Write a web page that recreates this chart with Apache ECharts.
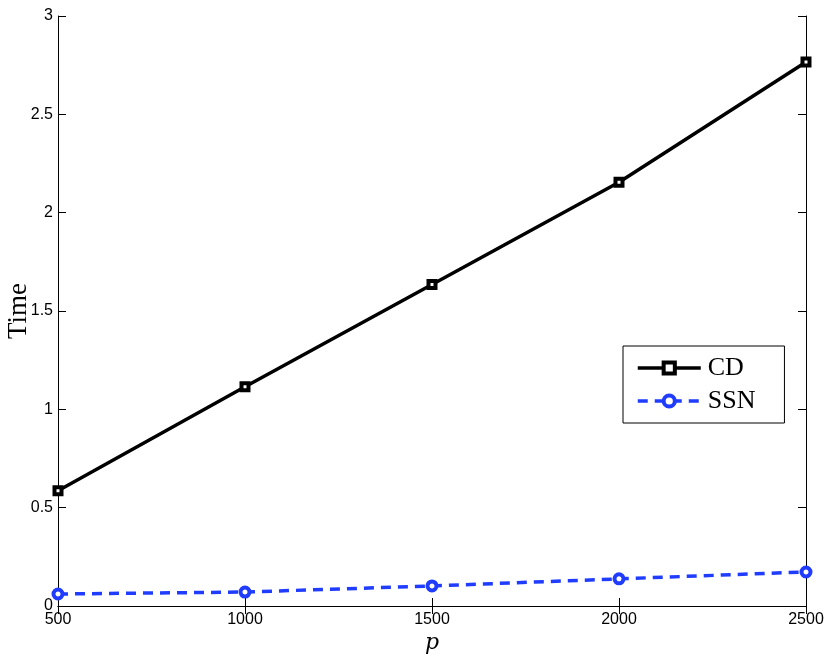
<!DOCTYPE html>
<html><head><meta charset="utf-8">
<script src="https://cdn.jsdelivr.net/npm/echarts@6/dist/echarts.min.js"></script>
<style>html,body{margin:0;padding:0;background:#fff}#c{width:830px;height:656px}</style>
</head><body><div id="c"></div>
<script>
const pValues = [500, 1000, 1500, 2000, 2500];
const cdTime = [0.586, 1.115, 1.635, 2.155, 2.766];
const ssnTime = [0.061, 0.071, 0.102, 0.138, 0.173];
const seriesNames = ['CD', 'SSN'];

const chart = echarts.init(document.getElementById('c'));
const tickFont = {fontFamily: 'Liberation Sans, Arial, sans-serif', fontSize: 16, color: '#000', formatter: v => String(v)};
const axisCommon = {
  axisLine: {show: true, lineStyle: {color: '#000', width: 1}},
  axisTick: {show: true, inside: true, length: 8, lineStyle: {color: '#000'}},
  splitLine: {show: false}
};
const blue = '#1f3cff';
chart.setOption({
  animation: false,
  backgroundColor: '#fff',
  grid: {left: 58, right: 24, top: 16, bottom: 50, containLabel: false, outerBoundsMode: 'none'},
  xAxis: [
    Object.assign({type: 'value', min: 500, max: 2500, interval: 500, position: 'bottom',
      name: 'p', nameLocation: 'middle', nameGap: 26, nameMoveOverlap: false,
      nameTextStyle: {fontFamily: 'DejaVu Serif, Liberation Serif, serif', fontStyle: 'italic', fontSize: 22, color: '#000'},
      axisLabel: Object.assign({margin: 6}, tickFont)}, axisCommon),
    Object.assign({type: 'value', min: 500, max: 2500, interval: 500, position: 'top',
      axisLabel: {show: false}}, axisCommon)
  ],
  yAxis: [
    Object.assign({type: 'value', min: 0, max: 3, interval: 0.5, position: 'left',
      name: 'Time', nameLocation: 'middle', nameGap: 26, nameRotate: 90, nameMoveOverlap: false,
      nameTextStyle: {fontFamily: 'Liberation Serif, serif', fontSize: 27, color: '#000'},
      axisLabel: Object.assign({margin: 5}, tickFont)}, axisCommon),
    Object.assign({type: 'value', min: 0, max: 3, interval: 0.5, position: 'right',
      axisLabel: {show: false}}, axisCommon)
  ],
  legend: {
    orient: 'vertical', left: 623, top: 346,
    padding: [9, 29, 9, 13], itemGap: 7,
    itemWidth: 63, itemHeight: 14,
    backgroundColor: '#fff', borderColor: '#000', borderWidth: 1,
    textStyle: {fontFamily: 'Liberation Serif, serif', fontSize: 26, color: '#000', padding: [0, 0, 0, 2]},
    data: [
      {name: seriesNames[0], itemStyle: {color: '#fff', borderColor: '#000', borderWidth: 4}, lineStyle: {width: 3.5, color: '#000'}},
      {name: seriesNames[1], itemStyle: {color: '#fff', borderColor: blue, borderWidth: 4}, lineStyle: {width: 3.5, color: blue, type: [10, 7]}}
    ]
  },
  series: [
    {name: seriesNames[0], type: 'line', data: pValues.map((p, i) => [p, cdTime[i]]),
      symbol: 'rect', symbolSize: 7, showAllSymbol: true,
      lineStyle: {color: '#000', width: 3.5},
      itemStyle: {color: '#fff', borderColor: '#000', borderWidth: 4}},
    {name: seriesNames[1], type: 'line', data: pValues.map((p, i) => [p, ssnTime[i]]),
      symbol: 'circle', symbolSize: 9, showAllSymbol: true,
      lineStyle: {color: blue, width: 3.5, type: [10, 7]},
      itemStyle: {color: '#fff', borderColor: blue, borderWidth: 4}}
  ]
});
</script></body></html>
